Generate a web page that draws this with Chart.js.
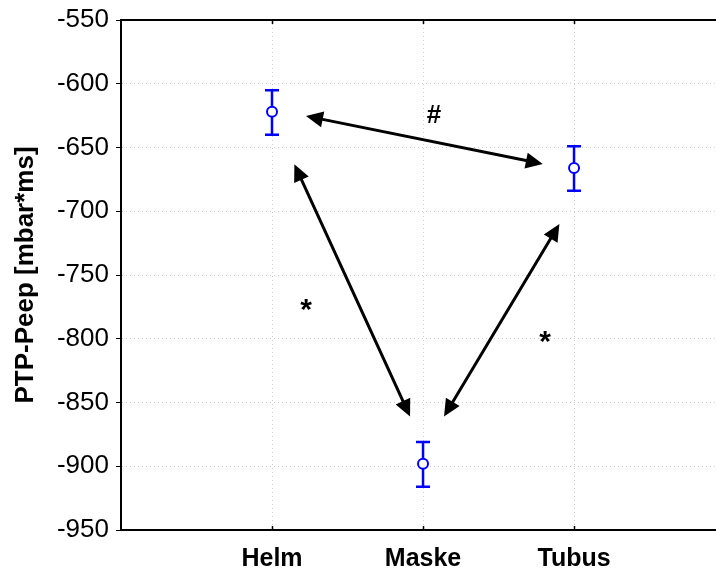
<!DOCTYPE html>
<html>
<head>
<meta charset="utf-8">
<script src="https://cdn.jsdelivr.net/npm/chart.js@4/dist/chart.umd.min.js"></script>
<style>
  html, body { margin: 0; padding: 0; background: #fff; overflow: hidden; }
  canvas { display: block; }
</style>
</head>
<body>
<canvas id="c" width="716" height="573"></canvas>
<script>
// groups and their mean / error range
const categories = ["Helm", "Maske", "Tubus"];
const catPos = [1, 2, 3];
const means = [-622, -898, -666];
const errLow = [-640, -916, -684];
const errHigh = [-605, -881, -649];

// y ticks
const yTicks = [-550, -600, -650, -700, -750, -800, -850, -900, -950];

// double arrows between groups (data coordinates)
const arrowFromX = [1.225, 1.148, 2.139];
const arrowFromY = [-625.3, -663.2, -861];
const arrowToX = [2.793, 1.914, 2.903];
const arrowToY = [-662.9, -861, -710];

// significance marks
const markText = ["#", "*", "*"];
const markX = [2.073, 1.225, 2.808];
const markY = [-625, -773.5, -798.4];

const FONT = "'Liberation Sans', Arial, sans-serif";

function arrowHead(ctx, x1, y1, x2, y2) {
    // tip at (x2, y2)
    const a = Math.atan2(y2 - y1, x2 - x1);
    const len = 17, half = 8;
    ctx.beginPath();
    ctx.moveTo(x2, y2);
    ctx.lineTo(x2 - len * Math.cos(a) + half * Math.sin(a), y2 - len * Math.sin(a) - half * Math.cos(a));
    ctx.lineTo(x2 - len * Math.cos(a) - half * Math.sin(a), y2 - len * Math.sin(a) + half * Math.cos(a));
    ctx.closePath();
    ctx.fill();
}

const extras = {
    id: "extras",
    beforeDatasetsDraw(chart) {
        const {ctx, chartArea, scales: {x, y}} = chart;
        ctx.save();
        // top frame line and inward ticks
        ctx.strokeStyle = "#000";
        ctx.lineWidth = 2;
        ctx.beginPath();
        ctx.moveTo(chartArea.left, chartArea.top);
        ctx.lineTo(chartArea.right, chartArea.top);
        ctx.stroke();
        ctx.lineWidth = 1.5;
        catPos.forEach(p => {
            const px = Math.round(x.getPixelForValue(p)) + 0.5;
            ctx.beginPath();
            ctx.moveTo(px, chartArea.bottom);
            ctx.lineTo(px, chartArea.bottom - 4);
            ctx.moveTo(px, chartArea.top);
            ctx.lineTo(px, chartArea.top + 4);
            ctx.stroke();
        });

        // error bars
        ctx.strokeStyle = "#0000ff";
        ctx.lineWidth = 2.5;
        catPos.forEach((p, i) => {
            const px = x.getPixelForValue(p);
            const lo = y.getPixelForValue(errLow[i]);
            const hi = y.getPixelForValue(errHigh[i]);
            ctx.beginPath();
            ctx.moveTo(px, lo);
            ctx.lineTo(px, hi);
            ctx.moveTo(px - 7, lo);
            ctx.lineTo(px + 7, lo);
            ctx.moveTo(px - 7, hi);
            ctx.lineTo(px + 7, hi);
            ctx.stroke();
        });

        // arrows
        ctx.strokeStyle = "#000";
        ctx.fillStyle = "#000";
        ctx.lineWidth = 3;
        arrowFromX.forEach((_, i) => {
            const x1 = x.getPixelForValue(arrowFromX[i]);
            const y1 = y.getPixelForValue(arrowFromY[i]);
            const x2 = x.getPixelForValue(arrowToX[i]);
            const y2 = y.getPixelForValue(arrowToY[i]);
            const a = Math.atan2(y2 - y1, x2 - x1);
            ctx.beginPath();
            ctx.moveTo(x1 + 12 * Math.cos(a), y1 + 12 * Math.sin(a));
            ctx.lineTo(x2 - 12 * Math.cos(a), y2 - 12 * Math.sin(a));
            ctx.stroke();
            arrowHead(ctx, x1, y1, x2, y2);
            arrowHead(ctx, x2, y2, x1, y1);
        });

        // marks
        ctx.textAlign = "center";
        ctx.textBaseline = "middle";
        markText.forEach((t, i) => {
            ctx.font = (t === "*" ? "bold 30px " : "bold 26px ") + FONT;
            ctx.fillText(t, x.getPixelForValue(markX[i]), y.getPixelForValue(markY[i]) + (t === "*" ? 6 : 0));
        });
        ctx.restore();
    }
};

new Chart(document.getElementById("c"), {
    type: "scatter",
    data: {
        datasets: [{
            data: catPos.map((p, i) => ({x: p, y: means[i]})),
            pointStyle: "circle",
            pointRadius: 5,
            pointBorderWidth: 2,
            pointBackgroundColor: "#fff",
            pointBorderColor: "#0000ff"
        }]
    },
    options: {
        responsive: false,
        animation: false,
        events: [],
        layout: {autoPadding: false, padding: {top: 20, right: 0, left: 0, bottom: 0}},
        plugins: {legend: {display: false}, tooltip: {enabled: false}},
        scales: {
            x: {
                type: "linear",
                min: 0,
                max: 3.94,
                afterBuildTicks: (s) => { s.ticks = catPos.map(v => ({value: v})); },
                afterFit: (s) => { s.height = 43; s.paddingRight = 0; s.paddingLeft = 0; },
                ticks: {
                    callback: (v) => categories[catPos.indexOf(v)] || "",
                    color: "#000",
                    font: {family: FONT, size: 25, weight: "bold"},
                    padding: 14,
                    maxRotation: 0
                },
                grid: {color: "#cccccc", drawTicks: false, lineWidth: 1},
                border: {display: true, color: "#000", width: 2, dash: [1, 3]}
            },
            y: {
                min: -950,
                max: -550,
                afterBuildTicks: (s) => { s.ticks = yTicks.map(v => ({value: v})); },
                afterFit: (s) => { s.width = 121; s.paddingTop = 0; s.paddingBottom = 0; },
                ticks: {
                    color: "#000",
                    font: {family: FONT, size: 26},
                    padding: 7
                },
                grid: {color: "#cccccc", tickColor: "#000", tickLength: 5, tickBorderDash: [], lineWidth: 1},
                border: {display: true, color: "#000", width: 2, dash: [1, 3]},
                title: {
                    display: true,
                    text: "PTP-Peep [mbar*ms]",
                    color: "#000",
                    font: {family: FONT, size: 26, weight: "bold"},
                    padding: {top: 10, bottom: 0}
                }
            }
        }
    },
    plugins: [extras]
});
</script>
</body>
</html>
